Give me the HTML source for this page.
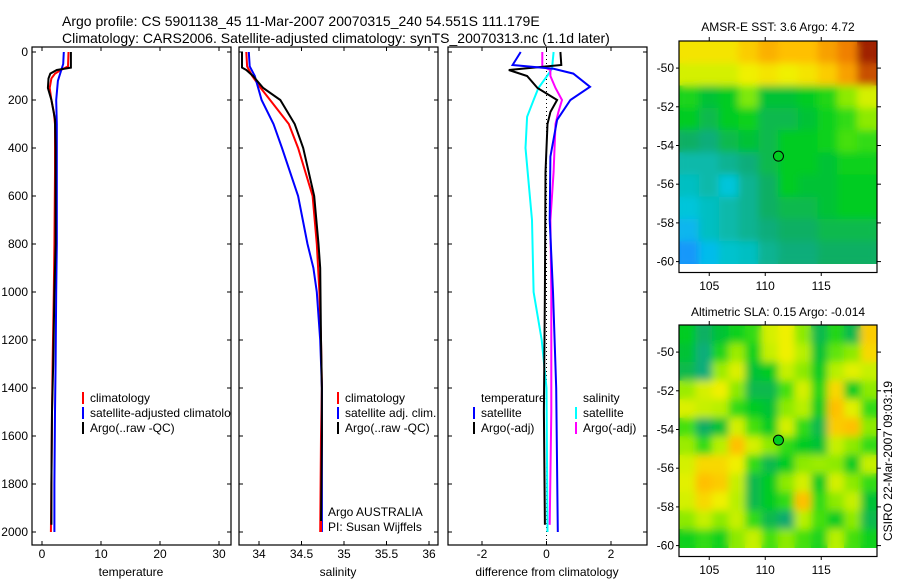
<!DOCTYPE html>
<html><head><meta charset="utf-8">
<style>
html,body{margin:0;padding:0;background:#fff;}
svg{display:block;font-family:"Liberation Sans",sans-serif;}
</style></head>
<body>
<svg id="fig" width="900" height="580" viewBox="0 0 900 580">
<defs>
<clipPath id="c1"><rect x="32" y="47" width="199" height="498"/></clipPath>
<clipPath id="c2"><rect x="239" y="47" width="199" height="498"/></clipPath>
<clipPath id="c3"><rect x="448" y="47" width="199" height="498"/></clipPath>
<clipPath id="cm1"><rect x="679" y="41" width="198" height="223"/></clipPath>
<clipPath id="cm2"><rect x="679" y="325" width="198" height="223"/></clipPath>
<filter id="blur" x="-5%" y="-5%" width="110%" height="110%"><feGaussianBlur stdDeviation="4"/></filter>
</defs>
<text x="62" y="26" font-size="14">Argo profile: CS 5901138_45 11-Mar-2007 20070315_240 54.551S 111.179E</text>
<text x="62" y="43" font-size="14">Climatology: CARS2006. Satellite-adjusted climatology: synTS_20070313.nc (1.1d later)</text>
<g id="root"></g>
<text x="778" y="31" font-size="12" text-anchor="middle">AMSR-E SST: 3.6 Argo: 4.72</text>
<text x="778" y="316" font-size="12" text-anchor="middle">Altimetric SLA: 0.15 Argo: -0.014</text>
<text transform="translate(892,461) rotate(-90)" font-size="12" text-anchor="middle">CSIRO 22-Mar-2007 09:03:19</text>
<text x="328" y="516" font-size="12">Argo AUSTRALIA</text>
<text x="328" y="531" font-size="12">PI: Susan Wijffels</text>
</svg>
<script>
// ---------- data ----------
const depthTicks = [0,200,400,600,800,1000,1200,1400,1600,1800,2000];
const tempTicks = [0,10,20,30];
const salTicks = [34,34.5,35,35.5,36];
const salTickLabels = ["34","34.5","35","35.5","36"];
const diffTicks = [-2,0,2];

const tClimDepth = [0,60,75,90,110,150,200,250,300,500,800,1000,1300,1500,1800,2000];
const tClimVal =   [4.5,4.4,3.2,2.2,1.6,1.3,1.6,2.0,2.2,2.2,2.1,2.0,1.8,1.7,1.6,1.5];
const tSatDepth = [0,50,80,120,200,300,500,800,1000,1300,1500,1800,2000];
const tSatVal =   [3.7,3.6,3.2,2.7,2.4,2.5,2.5,2.5,2.4,2.3,2.2,2.1,2.1];
const tArgoDepth = [0,65,75,90,110,150,200,280,400,800,1000,1300,1500,1800,1970];
const tArgoVal =   [4.9,4.9,2.5,1.4,1.1,1.0,1.6,2.2,2.3,2.3,2.1,1.9,1.7,1.6,1.6];

const sClimDepth = [0,60,100,150,200,300,400,600,800,1000,1200,1400,1600,2000];
const sClimVal =   [33.85,33.86,33.92,34.02,34.13,34.35,34.46,34.63,34.68,34.71,34.73,34.74,34.73,34.72];
const sSatDepth = [0,60,100,150,200,300,400,600,800,900,1000,1200,1400,1600,2000];
const sSatVal =   [33.88,33.89,33.95,33.99,34.03,34.17,34.27,34.46,34.57,34.64,34.68,34.72,34.74,34.74,34.74];
const sArgoDepth = [0,65,75,100,150,200,300,400,600,800,900,1200,1400,1600,1970];
const sArgoVal =   [33.80,33.80,33.85,33.93,34.05,34.25,34.42,34.52,34.65,34.70,34.72,34.73,34.74,34.74,34.73];

const dTSatDepth = [0,54,70,90,145,200,283,436,700,1000,1400,2000];
const dTSatVal =   [-0.8,-1.05,0.22,0.83,1.35,0.74,0.33,0.12,0.1,0.2,0.3,0.35];
const dTArgoDepth = [0,54,75,100,150,200,250,300,500,1000,1500,1970];
const dTArgoVal =   [0.43,0.46,-1.17,-0.6,-0.28,0.33,0.12,0.03,-0.03,-0.05,-0.08,-0.05];
const dSSatDepth = [0,70,100,150,200,270,400,700,1000,1200,1400,2000];
const dSSatVal =   [0.22,0.17,0.02,-0.25,-0.4,-0.6,-0.65,-0.45,-0.4,-0.15,0.0,0.03];
const dSArgoDepth = [0,60,75,100,150,200,250,300,500,700,1000,1500,1970];
const dSArgoVal =   [-0.13,-0.13,0.12,0.12,0.28,0.48,0.37,0.28,0.22,0.12,0.15,0.15,0.1];

const sstGrid = [
[.68,.68,.68,.72,.76,.74,.74,.78,.82,.90],
[.62,.62,.62,.66,.68,.66,.68,.72,.78,.86],
[.45,.40,.42,.54,.40,.40,.42,.46,.55,.62],
[.42,.38,.42,.44,.38,.38,.40,.44,.48,.55],
[.36,.34,.38,.40,.38,.42,.42,.44,.50,.48],
[.30,.30,.32,.34,.38,.42,.42,.40,.44,.44],
[.28,.30,.26,.32,.36,.42,.40,.40,.42,.42],
[.26,.28,.30,.32,.36,.38,.38,.40,.42,.42],
[.22,.28,.30,.32,.34,.36,.36,.38,.38,.38],
[.17,.23,.27,.28,.32,.34,.34,.36,.36,.36]];
const slaGrid = [
[.42,.36,.40,.44,.48,.62,.66,.55,.38,.46,.38,.72],
[.40,.34,.45,.56,.44,.60,.66,.58,.40,.52,.55,.70],
[.38,.34,.56,.63,.40,.42,.60,.55,.42,.58,.64,.60],
[.56,.62,.66,.55,.38,.38,.50,.62,.46,.70,.42,.55],
[.63,.60,.58,.48,.42,.40,.55,.58,.42,.74,.64,.48],
[.50,.36,.40,.62,.50,.42,.62,.48,.38,.72,.74,.55],
[.56,.48,.58,.74,.62,.55,.48,.42,.40,.60,.55,.48],
[.62,.70,.70,.66,.48,.38,.42,.55,.56,.55,.42,.60],
[.64,.74,.72,.60,.38,.42,.55,.62,.42,.62,.55,.48],
[.62,.70,.66,.58,.38,.42,.48,.74,.48,.55,.60,.40],
[.55,.60,.55,.60,.48,.38,.35,.58,.50,.42,.55,.38],
[.44,.48,.44,.55,.60,.50,.55,.50,.45,.58,.50,.44]];
const lonTicks = [105,110,115];
const latTicks = [-50,-52,-54,-56,-58,-60];
const argoLon = 111.18, argoLat = -54.55;

// ---------- helpers ----------
const NS = "http://www.w3.org/2000/svg";
const root = document.getElementById('root');
function mk(tag, attrs, parent){ const e=document.createElementNS(NS,tag); for(const k in attrs) e.setAttribute(k,attrs[k]); (parent||root).appendChild(e); return e; }
const yD = d => 52 + 0.24*d;
const xT = t => 42 + 5.9*t;
const xS = s => 259 + 85*(s-34);
const xDf = v => 546.5 + 32.25*v;

function panel(x0, name){
  const r = mk('rect',{x:x0,y:47,width:199,height:498,fill:'none',stroke:'#000','stroke-width':1.2});
  
  
  depthTicks.forEach(d=>{
    mk('line',{x1:x0,x2:x0+4,y1:yD(d),y2:yD(d),stroke:'#000'});
    mk('line',{x1:x0+199,x2:x0+195,y1:yD(d),y2:yD(d),stroke:'#000'});
  });
}
function xticks(ticks, fx, labels, name){
  ticks.forEach((t,i)=>{
    const x=fx(t);
    mk('line',{x1:x,x2:x,y1:545,y2:541,stroke:'#000'});
    mk('line',{x1:x,x2:x,y1:47,y2:51,stroke:'#000'});
    const tx = mk('text',{x:x,y:558,'font-size':12,'text-anchor':'middle'});
    tx.textContent = labels[i];
    
    
  });
}
function line(ds, vs, fx, color, clip, name){
  const pts = ds.map((d,i)=>fx(vs[i]).toFixed(1)+','+yD(d).toFixed(1)).join(' ');
  const p = mk('polyline',{points:pts,fill:'none',stroke:color,'stroke-width':2,'clip-path':'url(#'+clip+')'});
  
  
}
function legend(x, y, color, label, name){
  if(color) mk('line',{x1:x,x2:x,y1:y-10,y2:y+2,stroke:color,'stroke-width':2});
  const t = mk('text',{x:x+7,y:y,'font-size':12});
  t.textContent = label;
  
  
  return t;
}

// ---------- panel 1 ----------
panel(32,'temperature-panel');
depthTicks.forEach(d=>{
  const t = mk('text',{x:28,y:yD(d)+4,'font-size':12,'text-anchor':'end'});
  t.textContent = d;
  
  
});
xticks(tempTicks, xT, tempTicks.map(String), 'temperature');
line(tClimDepth,tClimVal,xT,'#f00','c1','temp-climatology-line');
line(tSatDepth,tSatVal,xT,'#00f','c1','temp-satellite-line');
line(tArgoDepth,tArgoVal,xT,'#000','c1','temp-argo-line');
let lt = legend(83,402,'#f00','climatology','temp-legend-climatology');
lt = legend(83,417,'#00f','satellite-adjusted climatology','temp-legend-satellite'); lt.setAttribute('clip-path','url(#c1)');
legend(83,432,'#000','Argo(..raw -QC)','temp-legend-argo');
mk('text',{x:131,y:576,'font-size':12,'text-anchor':'middle'}).textContent='temperature';

// ---------- panel 2 ----------
panel(239,'salinity-panel');
xticks(salTicks, xS, salTickLabels, 'salinity');
line(sClimDepth,sClimVal,xS,'#f00','c2','sal-climatology-line');
line(sSatDepth,sSatVal,xS,'#00f','c2','sal-satellite-line');
line(sArgoDepth,sArgoVal,xS,'#000','c2','sal-argo-line');
legend(338,402,'#f00','climatology','sal-legend-climatology');
legend(338,417,'#00f','satellite adj. clim.','sal-legend-satellite');
legend(338,432,'#000','Argo(..raw -QC)','sal-legend-argo');
mk('text',{x:338,y:576,'font-size':12,'text-anchor':'middle'}).textContent='salinity';
mk('line',{x1:321,x2:321,y1:521,y2:532,stroke:'#f00','stroke-width':2});

// ---------- panel 3 ----------
panel(448,'difference-panel');
xticks(diffTicks, xDf, diffTicks.map(String), 'difference');
mk('line',{x1:xDf(0),x2:xDf(0),y1:47,y2:545,stroke:'#000','stroke-dasharray':'1,3'});
line(dSSatDepth,dSSatVal,xDf,'#0ff','c3','diff-sal-satellite-line');
line(dSArgoDepth,dSArgoVal,xDf,'#f0f','c3','diff-sal-argo-line');
line(dTArgoDepth,dTArgoVal,xDf,'#000','c3','diff-temp-argo-line');
line(dTSatDepth,dTSatVal,xDf,'#00f','c3','diff-temp-satellite-line');
legend(474,402,null,'temperature','diff-legend-temp-header');
legend(474,417,'#00f','satellite','diff-legend-temp-satellite');
legend(474,432,'#000','Argo(-adj)','diff-legend-temp-argo');
legend(576,402,null,'salinity','diff-legend-sal-header');
legend(576,417,'#0ff','satellite','diff-legend-sal-satellite');
legend(576,432,'#f0f','Argo(-adj)','diff-legend-sal-argo');
mk('text',{x:547,y:576,'font-size':12,'text-anchor':'middle'}).textContent='difference from climatology';

// ---------- maps ----------
const cstops = [[0.15,[26,140,255]],[0.25,[0,200,230]],[0.35,[16,170,110]],[0.42,[0,204,32]],[0.5,[68,224,16]],[0.58,[184,240,0]],[0.66,[240,240,0]],[0.74,[255,192,0]],[0.82,[240,128,0]],[0.9,[160,32,0]]];
function cmap(v){
  if(v<=cstops[0][0]) return 'rgb('+cstops[0][1]+')';
  for(let i=1;i<cstops.length;i++){
    if(v<=cstops[i][0]){
      const a=cstops[i-1], b=cstops[i], f=(v-a[0])/(b[0]-a[0]);
      return 'rgb('+a[1].map((c,k)=>Math.round(c+(b[1][k]-c)*f)).join(',')+')';
    }
  }
  return 'rgb('+cstops[cstops.length-1][1]+')';
}
function map(grid, top, latTop, name, clip){
  const lonL=102.3, x0=679, w=198;
  const latBot=-60.1;
  const yL = lat => top + (latTop-lat)*19.35;
  const xL = lon => x0 + (lon-lonL)*11.2;
  const imgBottom = yL(latBot);
  const rows=grid.length, cols=grid[0].length;
  const cw=w/cols, ch=(imgBottom-top)/rows;
  const g0 = mk('g',{'clip-path':'url(#'+clip+')'});
  
  
  [false,true].forEach(bl=>{
    const g = mk('g', bl?{filter:'url(#blur)'}:{}, g0);
    grid.forEach((row,r)=>row.forEach((v,c)=>{
      const cell = mk('rect',{x:x0+c*cw,y:top+r*ch,width:cw+0.5,height:ch+0.5,fill:cmap(v)},g);
      
      
    }));
  });
  const fr = mk('rect',{x:x0,y:top,width:w,height:231.5,fill:'none',stroke:'#000','stroke-width':1.2});
  
  
  latTicks.forEach(lat=>{
    const y=yL(lat);
    mk('line',{x1:x0+w,x2:x0+w+4,y1:y,y2:y,stroke:'#000'});
    mk('line',{x1:x0,x2:x0-3,y1:y,y2:y,stroke:'#000'});
    const t=mk('text',{x:x0-5,y:y+4,'font-size':12,'text-anchor':'end'}); t.textContent=lat;
    
    
  });
  lonTicks.forEach(lon=>{
    const x=xL(lon);
    mk('line',{x1:x,x2:x,y1:top,y2:top-4,stroke:'#000'});
    mk('line',{x1:x,x2:x,y1:top+231.5,y2:top+235,stroke:'#000'});
    const t=mk('text',{x:x,y:top+249,'font-size':12,'text-anchor':'middle'}); t.textContent=lon;
    
    
  });
  const m = mk('circle',{cx:xL(argoLon),cy:yL(argoLat),r:5,fill:'#00cc20',stroke:'#000','stroke-width':1});
  
  
}
map(sstGrid, 41, -48.6, 'sst-map', 'cm1');
map(slaGrid, 325, -48.6, 'sla-map', 'cm2');
</script>
</body></html>
